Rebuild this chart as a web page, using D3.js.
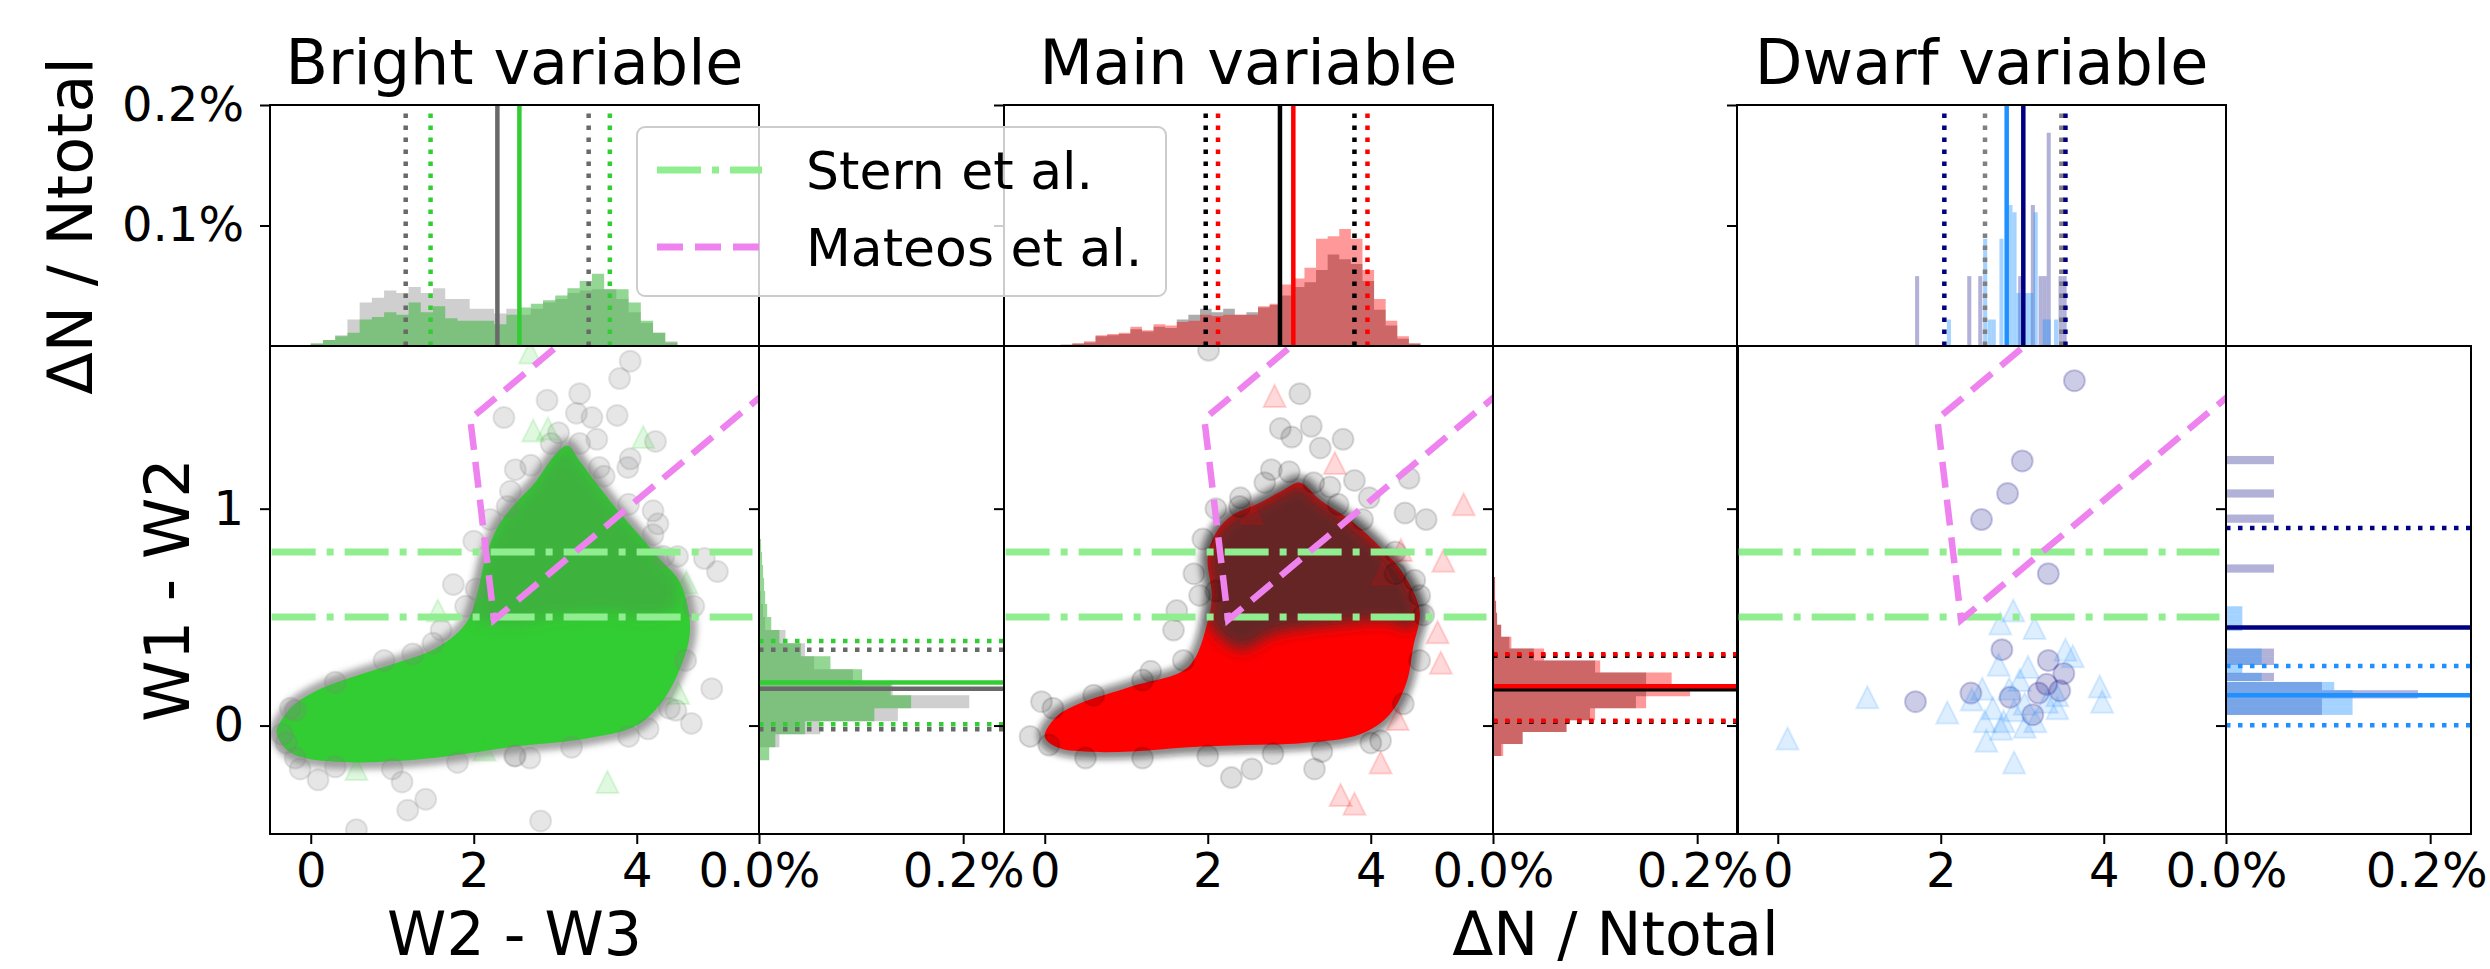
<!DOCTYPE html>
<html>
<head>
<meta charset="utf-8">
<title>W1-W2 vs W2-W3</title>
<script src="https://cdn.jsdelivr.net/npm/d3@7/dist/d3.min.js"></script>
<style>
  body { margin: 0; background: #fff; }
  svg text { font-family: "DejaVu Sans", sans-serif; }
</style>
</head>
<body>
<div id="chart"></div>
<script>
// ---------------- data ----------------
var panelTitles = ["Bright variable", "Main variable", "Dwarf variable"];
var scatterXTicks = [0, 2, 4];
var scatterYTicks = [0, 1];
var topHistTicks = [0.1, 0.2];
var rightHistTicks = [0.0, 0.2];

// Stern et al. cuts and Mateos et al. wedge (W2-W3, W1-W2)
var sternCuts = [0.5, 0.8];
var mateosWedge = [[6.0, 1.668], [2.250, 0.487], [1.958, 1.413], [4.0, 2.056]];

// Bright variable
var brightTopStart = 0.0, brightTopWidth = 0.15;
var brightTopGray  = [0.002,0.005,0.009,0.022,0.036,0.040,0.046,0.044,0.049,0.044,0.048,0.039,0.039,0.031,0.031,0.027,0.031,0.026,0.031,0.036,0.039,0.044,0.046,0.047,0.047,0.039,0.028,0.019,0.011,0.004];
var brightTopGreen = [0.002,0.005,0.008,0.011,0.022,0.024,0.028,0.026,0.036,0.028,0.033,0.023,0.021,0.021,0.021,0.018,0.026,0.032,0.035,0.038,0.042,0.048,0.054,0.060,0.047,0.047,0.036,0.021,0.011,0.003];
var brightRightStart = -0.16, brightRightWidth = 0.06;
var brightRightGray  = [0.000,0.020,0.060,0.136,0.206,0.131,0.092,0.054,0.045,0.026,0.006,0.004,0.002,0.001,0.001,0.000,0.000,0.000];
var brightRightGreen = [0.010,0.016,0.045,0.113,0.149,0.129,0.101,0.070,0.041,0.020,0.012,0.008,0.006,0.005,0.004,0.003,0.002,0.001];
var brightTopGrayQ = [1.165, 2.29, 3.41];
var brightTopGreenQ = [1.47, 2.56, 3.67];
var brightRightGrayQ = [-0.017, 0.170, 0.350];
var brightRightGreenQ = [0.006, 0.198, 0.390];
var brightCloud = [[-0.42,-0.03],[-0.3,-0.11],[-0.07,-0.15],[0.56,-0.17],[1.5,-0.15],[2.44,-0.1],[3.38,-0.06],[4.0,0.0],[4.33,0.12],[4.55,0.28],[4.65,0.42],[4.62,0.56],[4.5,0.68],[4.3,0.76],[4.05,0.87],[3.75,1.0],[3.5,1.12],[3.3,1.22],[3.15,1.29],[3.0,1.25],[2.75,1.12],[2.5,1.02],[2.3,0.92],[2.15,0.78],[2.05,0.62],[1.95,0.5],[1.81,0.43],[1.5,0.35],[1.06,0.29],[0.56,0.23],[0.12,0.17],[-0.19,0.1],[-0.35,0.03]];
var brightPlume = [[1.98,0.5],[2.05,0.62],[2.15,0.78],[2.3,0.92],[2.5,1.02],[2.75,1.12],[3.0,1.25],[3.15,1.29],[3.3,1.22],[3.5,1.12],[3.75,1.0],[4.05,0.87],[4.3,0.76],[4.5,0.68],[4.5,0.55],[4.2,0.5],[3.6,0.52],[3.0,0.5],[2.5,0.47]];
var brightCircles = [[3.92,1.68],[3.79,1.60],[3.30,1.53],[2.90,1.50],[3.26,1.44],[3.45,1.42],[3.76,1.43],[2.37,1.42],[3.04,1.35],[3.51,1.32],[4.23,1.31],[3.92,1.23],[3.89,1.19],[2.51,1.18],[3.54,1.19],[4.20,0.99],[4.26,0.93],[2.41,1.01],[4.33,0.78],[4.83,0.77],[4.99,0.71],[1.75,0.65],[2.03,0.63],[2.0,0.85],[4.92,0.17],[4.67,0.01],[4.48,0.07],[-0.35,-0.04],[-0.19,0.07],[-0.19,-0.15],[-0.13,-0.20],[0.09,-0.25],[1.12,-0.26],[1.19,-0.39],[1.41,-0.34],[0.56,-0.48],[2.82,-0.44],[2.69,-0.15],[2.51,-0.14],[4.14,-0.015],[1.6,0.44],[1.25,0.33],
  [2.2,0.95],[2.45,1.08],[2.7,1.2],[2.95,1.3],[3.3,1.3],[3.6,1.15],[3.9,1.02],[4.2,0.88],[4.5,0.78],[4.7,0.55],[4.6,0.3],[4.4,0.08],[3.9,-0.05],[3.2,-0.1],[2.5,-0.14],[1.8,-0.17],[1.0,-0.2],[0.3,-0.19],[-0.3,-0.08],[-0.25,0.08],[0.3,0.2],[0.9,0.3],[1.5,0.38],[1.9,0.55]];
var brightTriangles = [[2.73,1.36],[2.91,1.37],[4.08,1.33],[3.64,-0.26],[1.56,0.53],[4.51,0.15],[4.61,0.66],[2.69,1.72],[0.56,-0.2],[2.13,-0.11]];

// Main variable
var mainTopStart = 0.196, mainTopWidth = 0.1424;
var mainTopGray = [0.001,0.002,0.003,0.008,0.009,0.010,0.014,0.012,0.016,0.015,0.022,0.026,0.031,0.028,0.031,0.026,0.028,0.032,0.034,0.042,0.049,0.053,0.063,0.076,0.072,0.068,0.054,0.030,0.017,0.006,0.002];
var mainTopRed  = [0.001,0.002,0.004,0.009,0.010,0.011,0.016,0.013,0.018,0.017,0.020,0.021,0.026,0.025,0.026,0.026,0.026,0.033,0.035,0.051,0.056,0.065,0.089,0.091,0.097,0.089,0.063,0.039,0.021,0.008,0.002];
var mainRightStart = -0.14, mainRightWidth = 0.055;
var mainRightGray = [0.008,0.029,0.072,0.095,0.140,0.150,0.150,0.100,0.040,0.016,0.008,0.004,0.003,0.002,0.002,0.001,0.001,0.001];
var mainRightRed  = [0.010,0.029,0.072,0.100,0.150,0.193,0.175,0.105,0.050,0.018,0.008,0.004,0.003,0.002,0.002,0.001,0.001,0.001];
var mainTopBlackQ = [1.975, 2.886, 3.80];
var mainTopRedQ = [2.126, 3.05, 3.96];
var mainRightBlackQ = [0.017, 0.167, 0.322];
var mainRightRedQ = [0.022, 0.181, 0.329];
var mainCloud = [[0.0,-0.05],[0.15,-0.1],[0.5,-0.12],[1.06,-0.12],[1.76,-0.1],[2.46,-0.09],[3.17,-0.08],[3.87,-0.04],[4.23,0.05],[4.44,0.2],[4.52,0.36],[4.6,0.53],[4.4,0.7],[4.2,0.79],[3.9,0.9],[3.7,0.96],[3.38,1.04],[3.13,1.12],[2.9,1.08],[2.6,1.02],[2.3,0.97],[2.12,0.9],[2.0,0.78],[2.05,0.6],[2.0,0.48],[1.76,0.27],[1.06,0.18],[0.42,0.1],[0.14,0.04]];
var mainPlume = [[2.0,0.48],[2.05,0.6],[2.0,0.78],[2.12,0.9],[2.3,0.97],[2.6,1.02],[2.9,1.08],[3.13,1.12],[3.38,1.04],[3.7,0.96],[3.9,0.9],[4.2,0.79],[4.4,0.7],[4.6,0.53],[4.5,0.45],[4.2,0.48],[3.5,0.46],[2.8,0.42],[2.4,0.35]];
var mainCircles = [[2.01,1.73],[3.13,1.53],[2.89,1.37],[3.27,1.38],[3.03,1.33],[3.66,1.32],[3.38,1.28],[2.78,1.18],[3.80,1.13],[3.98,1.05],[4.47,1.14],[4.42,0.98],[4.68,0.95],[2.39,1.01],[1.94,0.86],[1.83,0.70],[1.62,0.53],[1.58,0.44],[1.30,0.25],[-0.04,0.11],[-0.18,-0.05],[2.29,-0.24],[2.54,-0.20],[3.31,-0.20],[4.12,-0.07],[4.30,0.70],[4.54,0.67],[4.65,0.51],[2.1,0.62],[3.5,1.1],
  [1.9,0.6],[2.1,1.0],[2.4,1.05],[2.7,1.12],[3.0,1.17],[3.3,1.12],[3.6,1.02],[3.9,0.95],[4.3,0.8],[4.6,0.6],[4.6,0.3],[4.4,0.1],[4.0,-0.08],[3.4,-0.12],[2.8,-0.13],[2.0,-0.14],[1.2,-0.15],[0.5,-0.15],[0.05,-0.09],[0.1,0.08],[0.6,0.14],[1.2,0.21],[1.7,0.3]];
var mainTriangles = [[2.82,1.52],[3.56,1.21],[5.14,1.02],[4.89,0.76],[4.86,0.29],[4.82,0.43],[4.37,0.81],[4.12,-0.17],[3.63,-0.32],[3.80,-0.36],[4.33,0.03],[4.15,0.70],[2.54,0.98]];

// Dwarf variable (few objects: single bars)
var dwarfTopWidth = 0.05;
var dwarfTopNavy = [[1.685,0.058],[2.325,0.058],[2.46,0.058],[2.95,0.058],[3.105,0.117],[3.2,0.058],[3.25,0.058],[3.30,0.177],[3.445,0.058],[3.495,0.058]];
var dwarfTopBlue = [[2.075,0.022],[2.52,0.089],[2.575,0.022],[2.625,0.022],[2.72,0.089],[2.83,0.117],[2.88,0.111],[2.93,0.044],[3.035,0.044],[3.085,0.044],[3.14,0.111],[3.25,0.022],[3.30,0.022],[3.39,0.022]];
var dwarfRightWidth = 0.038;
var dwarfRightNavy = [[1.205,0.047],[1.051,0.047],[0.935,0.047],[0.705,0.047],[0.317,0.047],[0.279,0.047],[0.205,0.047],[0.163,0.094],[0.125,0.188],[0.087,0.094],[0.049,0.094]];
var dwarfRightBlue = [[0.512,0.016],[0.474,0.016],[0.436,0.016],[0.317,0.035],[0.279,0.035],[0.241,0.016],[0.205,0.035],[0.163,0.106],[0.125,0.124],[0.087,0.124],[0.049,0.124]];
var dwarfTopGrayQ = [2.543, 3.48];
var dwarfTopNavyQ = [2.044, 3.013, 3.53];
var dwarfTopBlueQ = [2.809];
var dwarfRightNavyQ = [0.911, 0.452];
var dwarfRightBlueQ = [0.0015, 0.140, 0.275];
var dwarfCircles = [[3.64,1.59],[3.0,1.22],[2.82,1.07],[2.50,0.95],[3.32,0.70],[2.75,0.35],[3.32,0.30],[3.51,0.24],[3.30,0.19],[3.46,0.16],[3.20,0.15],[1.69,0.11],[2.37,0.15],[2.85,0.13],[3.13,0.05]];
var dwarfTriangles = [[0.12,-0.06],[1.10,0.13],[2.08,0.06],[2.56,-0.07],[2.90,-0.17],[2.73,0.47],[2.89,0.53],[3.15,0.45],[2.71,0.28],[3.53,0.35],[3.62,0.32],[3.95,0.18],[3.98,0.11],[2.51,0.17],[2.64,0.08],[2.77,0.02],[2.84,0.17],[2.97,0.21],[3.03,0.10],[3.16,0.02],[2.90,0.07],[3.43,0.08],[2.38,0.12],[3.07,0.27],[2.54,0.02],[2.74,-0.015],[3.03,-0.006],[3.43,0.14],[3.30,0.11]];

// ---------------- layout ----------------
var width = 2490, height = 969;
var scW = 489, rhW = 245;
var topTop = 105, midY = 346, botY = 834;
var DOT = "4.5,7.5";

var svg = d3.select('#chart').append('svg')
    .attr('width', width)
    .attr('height', height);

var defs = svg.append('defs');
defs.append('filter')
    .attr('id', 'fuzz')
    .attr('x', '-20%').attr('y', '-20%').attr('width', '140%').attr('height', '140%')
  .append('feGaussianBlur').attr('stdDeviation', 3);
defs.append('filter')
    .attr('id', 'soft')
    .attr('x', '-20%').attr('y', '-20%').attr('width', '140%').attr('height', '140%')
  .append('feGaussianBlur').attr('stdDeviation', 7);

function stepPoints(start, w, vals) {
  var pts = [];
  vals.forEach(function(v, i) {
    pts.push([start + i * w, v]);
    pts.push([start + (i + 1) * w, v]);
  });
  return pts;
}
function pctFmt(d) { return d.toFixed(1) + '%'; }
function noFmt() { return ''; }

var panels = [
  { left: 270, cloud: brightCloud, plume: brightPlume, core: '#32cd32', fringe: '#505050', tint: '#606060', tintOp: 0.24,
    circles: brightCircles, circleColor: '#808080', circleOp: 0.2, tris: brightTriangles, triColor: '#32cd32', triOp: 0.15,
    top: [{ start: brightTopStart, w: brightTopWidth, vals: brightTopGray, color: '#a0a0a0', op: 0.5 },
          { start: brightTopStart, w: brightTopWidth, vals: brightTopGreen, color: '#3cb43c', op: 0.55 }],
    right: [{ start: brightRightStart, w: brightRightWidth, vals: brightRightGray, color: '#a0a0a0', op: 0.5 },
            { start: brightRightStart, w: brightRightWidth, vals: brightRightGreen, color: '#3cb43c', op: 0.55 }],
    topQ: [{ q: brightTopGrayQ, color: '#696969', mid: 1 }, { q: brightTopGreenQ, color: '#32cd32', mid: 1 }],
    rightQ: [{ q: brightRightGrayQ, color: '#696969', mid: 1 }, { q: brightRightGreenQ, color: '#32cd32', mid: 1 }] },
  { left: 1004, cloud: mainCloud, plume: mainPlume, core: '#ff0000', fringe: '#1a1a1a', tint: '#333333', tintOp: 0.75,
    circles: mainCircles, circleColor: '#000000', circleOp: 0.13, tris: mainTriangles, triColor: '#ff0000', triOp: 0.15,
    top: [{ start: mainTopStart, w: mainTopWidth, vals: mainTopGray, color: '#808080', op: 0.65 },
          { start: mainTopStart, w: mainTopWidth, vals: mainTopRed, color: '#ff0000', op: 0.4 }],
    right: [{ start: mainRightStart, w: mainRightWidth, vals: mainRightGray, color: '#808080', op: 0.65 },
            { start: mainRightStart, w: mainRightWidth, vals: mainRightRed, color: '#ff0000', op: 0.4 }],
    topQ: [{ q: mainTopBlackQ, color: '#000000', mid: 1 }, { q: mainTopRedQ, color: '#ff0000', mid: 1 }],
    rightQ: [{ q: mainRightBlackQ, color: '#000000', mid: 1 }, { q: mainRightRedQ, color: '#ff0000', mid: 1 }] },
  { left: 1737, cloud: null,
    circles: dwarfCircles, circleColor: '#000080', circleOp: 0.2, tris: dwarfTriangles, triColor: '#1e90ff', triOp: 0.15,
    top: [{ pairs: dwarfTopNavy, w: dwarfTopWidth, color: '#000080', op: 0.3 },
          { pairs: dwarfTopBlue, w: dwarfTopWidth, color: '#1e90ff', op: 0.4 }],
    right: [{ pairs: dwarfRightNavy, w: dwarfRightWidth, color: '#000080', op: 0.3 },
            { pairs: dwarfRightBlue, w: dwarfRightWidth, color: '#1e90ff', op: 0.4 }],
    topQ: [{ q: dwarfTopGrayQ, color: '#808080', mid: -1 }, { q: dwarfTopBlueQ, color: '#1e90ff', mid: 0 },
           { q: dwarfTopNavyQ, color: '#000080', mid: 1 }],
    rightQ: [{ q: dwarfRightBlueQ, color: '#1e90ff', mid: 1 }, { q: dwarfRightNavyQ, color: '#000080', mid: 1 }] }
];

panels.forEach(function(p, k) {
  var x = d3.scaleLinear().domain([-0.5, 5.5]).range([p.left, p.left + scW]);
  var y = d3.scaleLinear().domain([-0.5, 1.75]).range([botY, midY]);
  var hy = d3.scaleLinear().domain([0, 0.2]).range([midY, topTop]);
  var hx = d3.scaleLinear().domain([0, 0.24]).range([p.left + scW, p.left + scW + rhW]);

  svg.append('clipPath').attr('id', 'sc' + k).append('rect')
      .attr('x', p.left).attr('y', midY).attr('width', scW).attr('height', botY - midY);
  svg.append('clipPath').attr('id', 'th' + k).append('rect')
      .attr('x', p.left).attr('y', topTop).attr('width', scW).attr('height', midY - topTop);
  svg.append('clipPath').attr('id', 'rh' + k).append('rect')
      .attr('x', p.left + scW).attr('y', midY).attr('width', rhW).attr('height', botY - midY);

  // --- top histogram ---
  var gt = svg.append('g').attr('clip-path', 'url(#th' + k + ')');
  var topArea = d3.area().x(function(d) { return x(d[0]); }).y0(hy(0)).y1(function(d) { return hy(d[1]); });
  p.top.forEach(function(s) {
    if (s.pairs) {
      gt.selectAll(null).data(s.pairs).enter().append('rect')
          .attr('x', function(d) { return x(d[0]); })
          .attr('width', function(d) { return x(d[0] + s.w) - x(d[0]); })
          .attr('y', function(d) { return hy(d[1]); })
          .attr('height', function(d) { return hy(0) - hy(d[1]); })
          .attr('fill', s.color).attr('fill-opacity', s.op);
    } else {
      gt.append('path').datum(stepPoints(s.start, s.w, s.vals))
          .attr('d', topArea).attr('fill', s.color).attr('fill-opacity', s.op);
    }
  });
  p.topQ.forEach(function(s) {
    gt.selectAll(null).data(s.q).enter().append('line')
        .attr('x1', function(d) { return x(d); }).attr('x2', function(d) { return x(d); })
        .attr('y1', hy(0)).attr('y2', hy(0.2))
        .attr('stroke', s.color).attr('stroke-width', 4.5)
        .attr('stroke-dasharray', function(d, i) { return i === s.mid ? null : DOT; });
  });

  // --- right histogram ---
  var gr = svg.append('g').attr('clip-path', 'url(#rh' + k + ')');
  var rightArea = d3.area().y(function(d) { return y(d[0]); }).x0(hx(0)).x1(function(d) { return hx(d[1]); });
  p.right.forEach(function(s) {
    if (s.pairs) {
      gr.selectAll(null).data(s.pairs).enter().append('rect')
          .attr('x', hx(0))
          .attr('width', function(d) { return hx(d[1]) - hx(0); })
          .attr('y', function(d) { return y(d[0] + s.w); })
          .attr('height', function(d) { return y(d[0]) - y(d[0] + s.w); })
          .attr('fill', s.color).attr('fill-opacity', s.op);
    } else {
      gr.append('path').datum(stepPoints(s.start, s.w, s.vals))
          .attr('d', rightArea).attr('fill', s.color).attr('fill-opacity', s.op);
    }
  });
  p.rightQ.forEach(function(s) {
    gr.selectAll(null).data(s.q).enter().append('line')
        .attr('y1', function(d) { return y(d); }).attr('y2', function(d) { return y(d); })
        .attr('x1', hx(0)).attr('x2', hx(0.24))
        .attr('stroke', s.color).attr('stroke-width', 4.5)
        .attr('stroke-dasharray', function(d, i) { return i === s.mid ? null : DOT; });
  });

  // --- scatter ---
  var gs = svg.append('g').attr('clip-path', 'url(#sc' + k + ')');
  var cloudLine = d3.line().x(function(d) { return x(d[0]); }).y(function(d) { return y(d[1]); })
      .curve(d3.curveCatmullRomClosed);
  if (p.cloud) {
    gs.append('path').datum(p.cloud).attr('d', cloudLine)
        .attr('fill', 'none').attr('stroke', p.fringe).attr('stroke-width', 14)
        .attr('stroke-opacity', 0.5).attr('filter', 'url(#fuzz)');
    gs.append('path').datum(p.cloud).attr('d', cloudLine).attr('fill', p.core);
    gs.append('path').datum(p.plume).attr('d', cloudLine)
        .attr('fill', p.tint).attr('fill-opacity', p.tintOp).attr('filter', 'url(#soft)');
  }
  gs.selectAll(null).data(p.circles).enter().append('circle')
      .attr('cx', function(d) { return x(d[0]); }).attr('cy', function(d) { return y(d[1]); })
      .attr('r', 10.5)
      .attr('fill', p.circleColor).attr('fill-opacity', p.circleOp)
      .attr('stroke', p.circleColor).attr('stroke-opacity', p.circleOp).attr('stroke-width', 2);
  gs.selectAll(null).data(p.tris).enter().append('path')
      .attr('transform', function(d) { return 'translate(' + x(d[0]) + ',' + y(d[1]) + ')'; })
      .attr('d', 'M0,-11L11,11L-11,11Z')
      .attr('fill', p.triColor).attr('fill-opacity', p.triOp)
      .attr('stroke', p.triColor).attr('stroke-opacity', p.triOp).attr('stroke-width', 2);

  gs.selectAll(null).data(sternCuts).enter().append('line')
      .attr('x1', x(-0.48)).attr('x2', x(5.42))
      .attr('y1', function(d) { return y(d); }).attr('y2', function(d) { return y(d); })
      .attr('stroke', '#90ee90').attr('stroke-width', 7)
      .attr('stroke-dasharray', '44,11,7,11');
  gs.append('path').datum(mateosWedge)
      .attr('d', d3.line().x(function(d) { return x(d[0]); }).y(function(d) { return y(d[1]); }))
      .attr('fill', 'none').attr('stroke', '#ee82ee').attr('stroke-width', 6.5)
      .attr('stroke-dasharray', '26,12');

  // --- axes ---
  function styleAxis(g) {
    g.select('.domain').remove();
    g.selectAll('.tick line').attr('stroke-width', 2);
    g.attr('font-size', 48).attr('font-family', '"DejaVu Sans", sans-serif');
  }
  svg.append('g').attr('transform', 'translate(0,' + botY + ')')
      .call(d3.axisBottom(x).tickValues(scatterXTicks).tickSize(10).tickPadding(9).tickFormat(d3.format('d')))
      .call(styleAxis);
  svg.append('g').attr('transform', 'translate(' + p.left + ',0)')
      .call(d3.axisLeft(y).tickValues(scatterYTicks).tickSize(10).tickPadding(16)
        .tickFormat(k === 0 ? d3.format('d') : noFmt))
      .call(styleAxis);
  svg.append('g').attr('transform', 'translate(' + p.left + ',0)')
      .call(d3.axisLeft(hy).tickValues(topHistTicks).tickSize(10).tickPadding(16)
        .tickFormat(k === 0 ? pctFmt : noFmt))
      .call(styleAxis);
  var rb = svg.append('g').attr('transform', 'translate(0,' + botY + ')')
      .call(d3.axisBottom(hx).tickValues(rightHistTicks).tickSize(10).tickPadding(9).tickFormat(pctFmt))
      .call(styleAxis);
  if (k === panels.length - 1) {
    // keep the last label inside the page
    rb.selectAll('.tick text').filter(function(d) { return d > 0; }).attr('dx', -4);
  }
  svg.append('g').attr('transform', 'translate(' + (p.left + scW) + ',0)')
      .call(d3.axisLeft(y).tickValues(scatterYTicks).tickSize(10).tickFormat(noFmt))
      .call(styleAxis);

  // frames
  [[p.left, topTop, scW, midY - topTop], [p.left, midY, scW, botY - midY], [p.left + scW, midY, rhW, botY - midY]]
    .forEach(function(r) {
      svg.append('rect').attr('x', r[0]).attr('y', r[1]).attr('width', r[2]).attr('height', r[3])
          .attr('fill', 'none').attr('stroke', '#000').attr('stroke-width', 2);
    });

  svg.append('text')
      .attr('x', p.left + scW / 2).attr('y', 84)
      .attr('text-anchor', 'middle').attr('font-size', 62)
      .text(panelTitles[k]);
});

// axis labels
svg.append('text').attr('transform', 'translate(92,226) rotate(-90)')
    .attr('text-anchor', 'middle').attr('font-size', 62).text('ΔN / Ntotal');
svg.append('text').attr('transform', 'translate(189,590) rotate(-90)')
    .attr('text-anchor', 'middle').attr('font-size', 62).text('W1 - W2');
svg.append('text').attr('x', 270 + scW / 2).attr('y', 955)
    .attr('text-anchor', 'middle').attr('font-size', 60).text('W2 - W3');
svg.append('text').attr('x', 1004 + scW + rhW / 2).attr('y', 955)
    .attr('text-anchor', 'middle').attr('font-size', 60).text('ΔN / Ntotal');

// legend
var legend = svg.append('g');
legend.append('rect').attr('x', 637).attr('y', 127).attr('width', 529).attr('height', 169)
    .attr('rx', 8).attr('fill', '#fff').attr('fill-opacity', 0.8)
    .attr('stroke', '#cccccc').attr('stroke-width', 2);
var legendItems = [
  { label: 'Stern et al.', color: '#90ee90', dash: '44,11,7,11', y: 170 },
  { label: 'Mateos et al.', color: '#ee82ee', dash: '26,12', y: 247 }
];
legendItems.forEach(function(d) {
  legend.append('line').attr('x1', 657).attr('x2', 762).attr('y1', d.y).attr('y2', d.y)
      .attr('stroke', d.color).attr('stroke-width', 7).attr('stroke-dasharray', d.dash);
  legend.append('text').attr('x', 806).attr('y', d.y).attr('dy', '0.36em')
      .attr('font-size', 52).text(d.label);
});
</script>
</body>
</html>
